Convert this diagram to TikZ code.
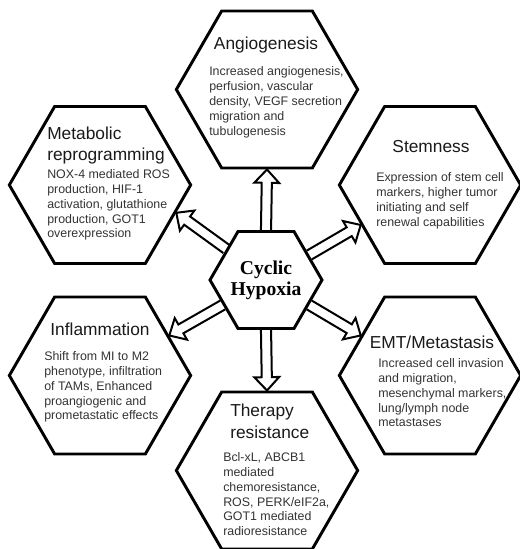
\documentclass[tikz,border=0pt]{standalone}
\usepackage{fontspec}
\setmainfont{Liberation Sans}
\newfontfamily\hypfont{Liberation Serif}
\usetikzlibrary{shapes.geometric,calc}

\tikzset{
	hexa/.style={regular polygon, regular polygon sides=6, draw, line width=2.2pt, minimum size=136pt, inner sep=0pt},
	headtxt/.style={inner sep=0pt, align=left, font=\fontsize{13}{16}\selectfont, text=black!90},
	bodytxt/.style={inner sep=0pt, anchor=north west, align=left, font=\fontsize{9.3}{11.2}\selectfont, text=black!80},
	arrowline/.style={draw, line width=1.5pt, line join=miter},
}

% open block arrow from one border point to another
\newcommand{\hollowarrow}[2]{%
	\draw[arrowline] let \p1=(#1), \p2=(#2),
		\n1={atan2(\y2-\y1,\x2-\x1)}, \n2={veclen(\x2-\x1,\y2-\y1)} in
		[shift={(\p1)}, rotate=\n1]
		(0pt,-3.8pt) -- ({\n2-10pt},-3.8pt) -- ({\n2-10pt},-9.3pt) -- ({\n2+0pt},0pt)
		-- ({\n2-10pt},9.3pt) -- ({\n2-10pt},3.8pt) -- (0pt,3.8pt);
}

\begin{document}
\begin{tikzpicture}[x=0.75pt,y=0.75pt]
		\useasboundingbox (0,0) rectangle (520,549);
		
		\node[hexa] (ang) at (267,459.5) {};
		\node[hexa] (met) at (100,364) {};
		\node[hexa] (stem) at (430,364) {};
		\node[hexa] (infl) at (100,173.5) {};
		\node[hexa] (emt) at (430,173.5) {};
		\node[hexa] (ther) at (267,78.5) {};
		\node[hexa, minimum size=84pt] (cyc) at (266,269) {};
		
		\node[headtxt] (angT) at (266,504) {Angiogenesis};
		\node[bodytxt] (angB) at (209,482.3) {Increased angiogenesis,\\perfusion, vascular\\density, VEGF secretion\\migration and\\tubulogenesis};
		
		\node[headtxt, anchor=north west] (metT) at (47,422.5) {Metabolic\\reprogramming};
		\node[bodytxt] (metB) at (47,380) {NOX-4 mediated ROS\\production, HIF-1\\activation, glutathione\\production, GOT1\\overexpression};
		
		\node[headtxt] (stemT) at (431,402) {Stemness};
		\node[bodytxt] (stemB) at (376,377) {Expression of stem cell\\markers, higher tumor\\initiating and self\\renewal capabilities};
		
		\node[headtxt] (inflT) at (100,220) {Inflammation};
		\node[bodytxt] (inflB) at (44,198) {Shift from MI to M2\\phenotype, infiltration\\of TAMs, Enhanced\\proangiogenic and\\prometastatic effects};
		
		\node[headtxt] (emtT) at (432,207) {EMT/Metastasis};
		\node[bodytxt] (emtB) at (378,191) {Increased cell invasion\\and migration,\\mesenchymal markers,\\lung/lymph node\\metastases};
		
		\node[headtxt, anchor=north west] (therT) at (230,145) {Therapy\\resistance};
		\node[bodytxt] (therB) at (223,97) {Bcl-xL, ABCB1\\mediated\\chemoresistance,\\ROS, PERK/eIF2a,\\GOT1 mediated\\radioresistance};
		
		\node[align=center, inner sep=0pt, font=\hypfont\bfseries\fontsize{14.7}{15.5}\selectfont] (cycT) at (266,269) {Cyclic\\Hypoxia};
		
		\hollowarrow{cyc.north}{ang.south}
		\hollowarrow{cyc.south}{ther.north}
		\hollowarrow{cyc.142}{met.-20}
		\hollowarrow{cyc.30}{stem.210}
		\hollowarrow{cyc.210}{infl.30}
		\hollowarrow{cyc.-30}{emt.150}
\end{tikzpicture}
\end{document}
